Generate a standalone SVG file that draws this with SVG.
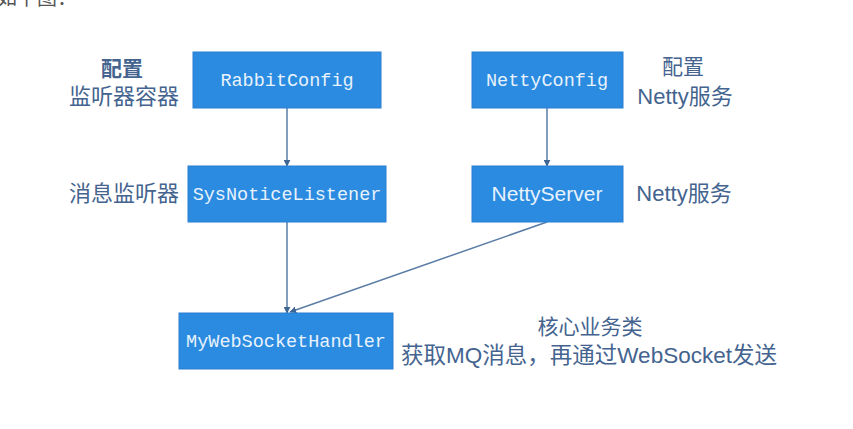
<svg xmlns="http://www.w3.org/2000/svg" width="853" height="429" viewBox="0 0 853 429">
<style>
.box{fill:#2a8be0;stroke:#2a7fd0;stroke-width:1}
.code{font-family:"Liberation Mono",monospace;font-size:18.5px;fill:#e8f2fc;text-anchor:middle}
.sans{font-family:"Liberation Sans","Noto Sans CJK SC",sans-serif;fill:#e8f2fc;text-anchor:middle;font-size:21px}
.lbl{font-family:"Liberation Sans","Noto Sans CJK SC",sans-serif;fill:#44648f;font-size:22px}
.edge{stroke:#5a7ca6;stroke-width:1.5;fill:none;marker-end:url(#arr)}
</style>
<defs>
<marker id="arr" viewBox="0 0 10 10" refX="9" refY="5" markerWidth="7" markerHeight="7" orient="auto" markerUnits="userSpaceOnUse">
<path d="M0,0 L10,5 L0,10 z" fill="#3e6694"/>
</marker>
</defs>
<rect width="853" height="429" fill="#ffffff"/>
<text x="-3" y="5" class="lbl" style="font-size:20px;fill:#555">如下图：</text>
<g id="connectors">
<line class="edge" x1="287" y1="108" x2="287" y2="166"/>
<line class="edge" x1="547" y1="108" x2="547" y2="166"/>
<line class="edge" x1="287" y1="222" x2="287" y2="313"/>
<line class="edge" x1="547" y1="222" x2="290" y2="312"/>
</g>
<g id="RabbitConfig">
<rect class="box" x="193" y="52" width="188" height="56"/>
<text class="code" x="287" y="86">RabbitConfig</text>
</g>
<g id="NettyConfig">
<rect class="box" x="472" y="52" width="151" height="56"/>
<text class="code" x="547" y="86">NettyConfig</text>
</g>
<g id="SysNoticeListener">
<rect class="box" x="188" y="166" width="198" height="56"/>
<text class="code" x="287" y="200">SysNoticeListener</text>
</g>
<g id="NettyServer">
<rect class="box" x="472" y="166" width="151" height="56"/>
<text class="sans" x="547" y="201">NettyServer</text>
</g>
<g id="MyWebSocketHandler">
<rect class="box" x="179" y="313" width="214" height="56"/>
<text class="code" x="286" y="347">MyWebSocketHandler</text>
</g>
<g id="labels">
<text class="lbl" x="122" y="76" text-anchor="middle" style="font-weight:bold;font-size:21px">配置</text>
<text class="lbl" x="124" y="104" text-anchor="middle">监听器容器</text>
<text class="lbl" x="683" y="74" text-anchor="middle" style="font-size:21px">配置</text>
<text class="lbl" x="685" y="104" text-anchor="middle">Netty服务</text>
<text class="lbl" x="124" y="201" text-anchor="middle">消息监听器</text>
<text class="lbl" x="684" y="201" text-anchor="middle">Netty服务</text>
<text class="lbl" x="590" y="334" text-anchor="middle" style="font-size:21px">核心业务类</text>
<text class="lbl" x="589" y="363" text-anchor="middle" style="font-size:22.5px">获取MQ消息，再通过WebSocket发送</text>
</g>
</svg>
